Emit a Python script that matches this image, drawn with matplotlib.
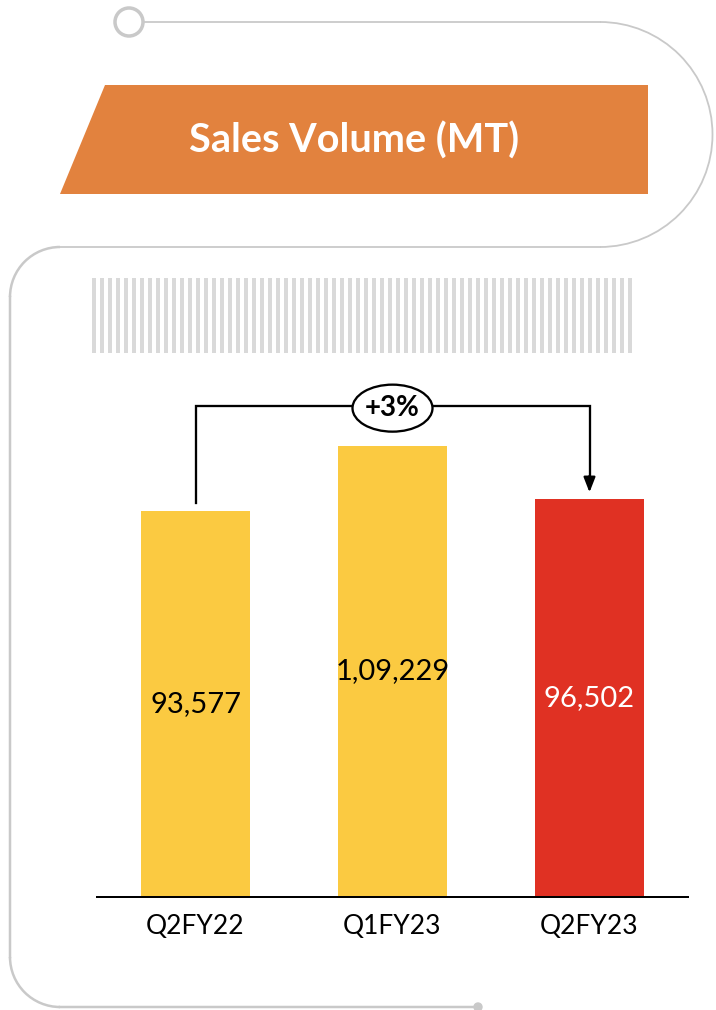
import numpy as np
import matplotlib.pyplot as plt
from matplotlib.patches import Arc, Circle, Polygon, Rectangle, Ellipse

# quarterly sales volume, metric tonnes
quarters = ['Q2FY22', 'Q1FY23', 'Q2FY23']
volumes = [93577, 109229, 96502]
value_labels = ['93,577', '1,09,229', '96,502']
growth_label = '+3%'
title = 'Sales Volume (MT)'

W, H = 716, 1010
FONT = 'Lato'
grey = '#c9c9c9'
orange = '#e2823e'
bar_colors = ['#fbca41', '#fbca41', '#e03123']
label_colors = ['black', 'black', 'white']

fig = plt.figure(figsize=(W / 100, H / 100), dpi=100, facecolor='white')

# decoration layer in pixel coordinates (y grows downwards)
deco = fig.add_axes([0, 0, 1, 1])
deco.set_xlim(0, W)
deco.set_ylim(H, 0)
deco.set_axis_off()

px = 0.72  # one pixel in points

# top rail: ring, line and the half-round bend on the right
deco.add_patch(Circle((129, 22), 14, fill=False, ec=grey, lw=3.5 * px))
deco.plot([144, 600], [22, 22], color=grey, lw=1.8 * px)
deco.add_patch(Arc((600, 134.5), 225, 225, theta1=270, theta2=90,
                   color=grey, lw=1.8 * px))
deco.plot([60, 600], [247, 247], color=grey, lw=1.8 * px)

# rounded frame around the chart (angles flipped by the inverted y axis)
deco.add_patch(Arc((60, 297), 100, 100, theta1=180, theta2=270, color=grey, lw=2.5 * px))
deco.plot([10, 10], [297, 957], color=grey, lw=2.5 * px)
deco.add_patch(Arc((60, 957), 100, 100, theta1=90, theta2=180, color=grey, lw=2.5 * px))
deco.plot([60, 478], [1007, 1007], color=grey, lw=2.5 * px)
deco.add_patch(Circle((478, 1007), 4, color=grey))

# title banner
deco.add_patch(Polygon([(105, 85), (648, 85), (648, 194), (60, 194)],
                       closed=True, color=orange, lw=0))
deco.text(354, 141, title, color='white', fontsize=28.5, fontweight='bold',
          family=FONT, ha='center', va='center')

# hatched strip
for x in np.arange(92, 632, 8):
    deco.add_patch(Rectangle((x, 278), 4, 75, color='#d9d9d9', lw=0))

# bar chart, baseline at y=897 px
left, right, top, base = 97, 688, 380, 897
ax = fig.add_axes([left / W, 1 - base / H, (right - left) / W, (base - top) / H])
ax.patch.set_alpha(0)
x = np.arange(len(quarters))
bars = ax.bar(x, volumes, width=109 / 197, color=bar_colors, zorder=2)
ax.set_xlim(-0.5, 2.5)
ax.set_ylim(0, (base - top) * 242.2)

for b, lab, c in zip(bars, value_labels, label_colors):
    ax.text(b.get_x() + b.get_width() / 2, b.get_height() / 2, lab,
            ha='center', va='center', fontsize=21, color=c, family=FONT)

ax.set_xticks(x)
ax.set_xticklabels(quarters, fontsize=19, family=FONT)
ax.tick_params(axis='x', length=0, pad=12)
ax.set_yticks([])
for s in ['top', 'left', 'right']:
    ax.spines[s].set_visible(False)
ax.spines['bottom'].set_linewidth(2 * px)

# growth bracket from first to last quarter
y_top = 118900
ax.plot([0, 0, 2, 2], [volumes[0] + 1900, y_top, y_top, volumes[2] + 5000],
        color='black', lw=2.3 * px, clip_on=False, solid_joinstyle='miter')
ax.annotate('', xy=(2, volumes[2] + 1500), xytext=(2, volumes[2] + 5500),
            arrowprops=dict(arrowstyle='-|>,head_width=0.35,head_length=0.9',
                            color='black', lw=2.3 * px, shrinkA=0, shrinkB=0),
            annotation_clip=False)
ax.add_patch(Ellipse((1, y_top - 500), 80 / 197, 47 * 242.2, fc='white',
                     ec='black', lw=2.3 * px, clip_on=False, zorder=3))
ax.text(1, y_top - 500, growth_label, ha='center', va='center', fontsize=20,
        fontweight='bold', family=FONT, zorder=4)

fig.savefig('out.png', dpi=100)
